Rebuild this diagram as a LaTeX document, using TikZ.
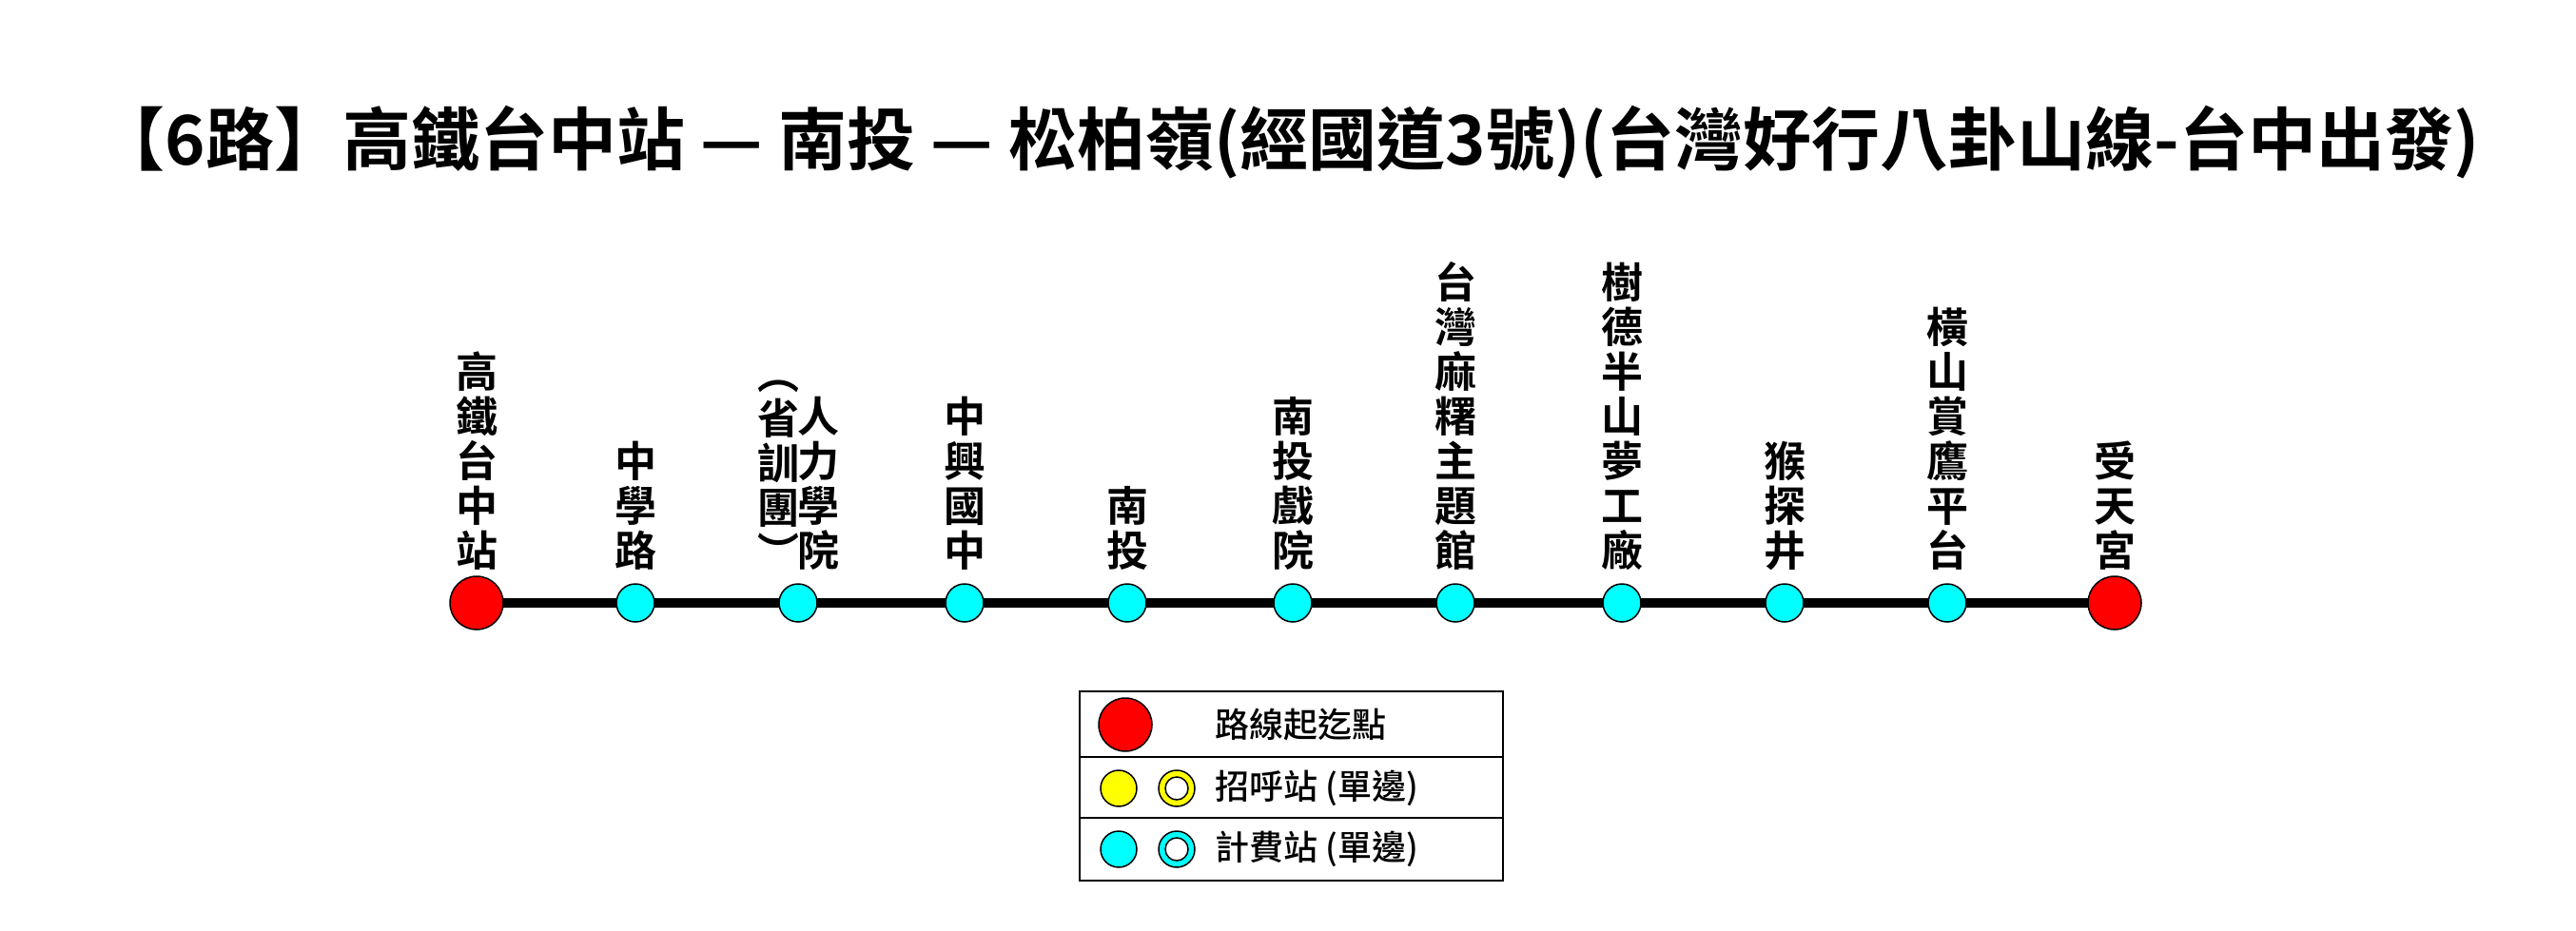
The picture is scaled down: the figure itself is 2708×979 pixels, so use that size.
\documentclass[tikz,border=0pt]{standalone}
\usepackage{fontspec}
\newfontfamily\cjk{Noto Sans CJK TC Bold}
\newfontfamily\cjkm{Noto Sans CJK TC Medium}
\definecolor{aqua}{RGB}{0,255,255}
\definecolor{ylw}{RGB}{255,255,0}
\definecolor{rd}{RGB}{255,0,0}
\begin{document}
\begin{tikzpicture}[x=1pt,y=-1pt,
  stn/.style={anchor=south,align=center,inner sep=0pt,font=\cjk\fontsize{44}{47}\selectfont},
  endst/.style={circle,draw=black,line width=1.5pt,fill=rd,minimum size=56pt,inner sep=0pt},
  midst/.style={circle,draw=black,line width=1.5pt,fill=aqua,minimum size=40pt,inner sep=0pt},
  leg/.style={anchor=west,inner sep=0pt,font=\cjkm\fontsize{36}{40}\selectfont}]
\useasboundingbox (0,0) rectangle (2708,979);
\node[font=\cjk\fontsize{72}{80}\selectfont] (title) at (1354,150) {【6路】高鐵台中站 — 南投 — 松柏嶺(經國道3號)(台灣好行八卦山線-台中出發)};
\draw[line width=10pt] (501,634) -- (2223,634);
\node[endst] (s1) at (501,634) {};
\foreach \n/\x in {2/668,3/839,4/1014,5/1185,6/1359,7/1530,8/1705,9/1876,10/2047}
  \node[midst] (s\n) at (\x,634) {};
\node[endst] (s11) at (2223,634) {};
\node[stn] (t1) at (501,600) {高\\鐵\\台\\中\\站};
\node[stn] (t2) at (668,600) {中\\學\\路};
\node[stn] (t3a) at (860,600) {人\\力\\學\\院};
\node[stn] (t3b) at (818,598) {︵\\省\\訓\\團\\︶};
\node[stn] (t4) at (1014,600) {中\\興\\國\\中};
\node[stn] (t5) at (1185,600) {南\\投};
\node[stn] (t6) at (1359,600) {南\\投\\戲\\院};
\node[stn] (t7) at (1530,600) {台\\灣\\麻\\糬\\主\\題\\館};
\node[stn] (t8) at (1705,600) {樹\\德\\半\\山\\夢\\工\\廠};
\node[stn] (t9) at (1876,600) {猴\\探\\井};
\node[stn] (t10) at (2047,600) {橫\\山\\賞\\鷹\\平\\台};
\node[stn] (t11) at (2223,600) {受\\天\\宮};
% legend
\draw[line width=1.5pt] (1135,727) rectangle (1580,926);
\draw[line width=1.5pt] (1135,796) -- (1580,796);
\draw[line width=1.5pt] (1135,860) -- (1580,860);
\node[endst] (l1) at (1183,762) {};
\node[circle,draw=black,line width=1.5pt,fill=ylw,minimum size=38pt,inner sep=0pt] (l2a) at (1176,829) {};
\node[circle,draw=black,line width=1.5pt,fill=ylw,minimum size=38pt,inner sep=0pt] (l2b) at (1237,829) {};
\node[circle,draw=black,line width=1.5pt,fill=white,minimum size=24pt,inner sep=0pt] (l2c) at (1237,829) {};
\node[circle,draw=black,line width=1.5pt,fill=aqua,minimum size=38pt,inner sep=0pt] (l3a) at (1176,893) {};
\node[circle,draw=black,line width=1.5pt,fill=aqua,minimum size=38pt,inner sep=0pt] (l3b) at (1237,893) {};
\node[circle,draw=black,line width=1.5pt,fill=white,minimum size=24pt,inner sep=0pt] (l3c) at (1237,893) {};
\node[leg] (lt1) at (1277,762) {路線起迄點};
\node[leg] (lt2) at (1277,829) {招呼站 (單邊)};
\node[leg] (lt3) at (1277,893) {計費站 (單邊)};
\end{tikzpicture}
\end{document}
